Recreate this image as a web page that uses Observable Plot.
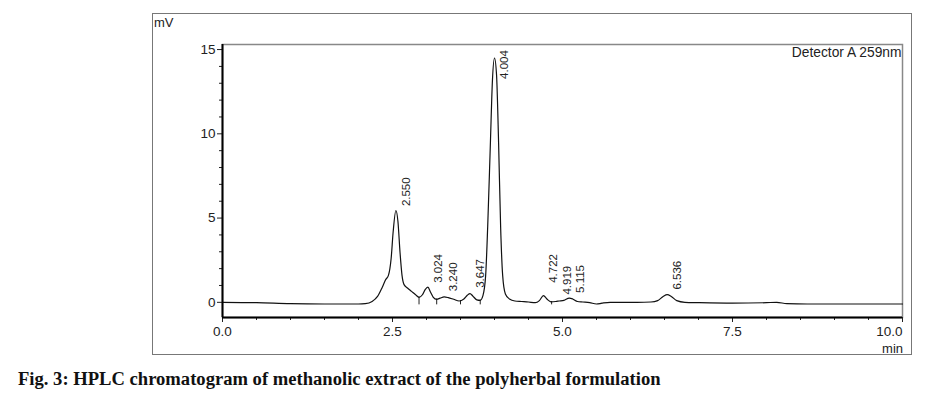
<!DOCTYPE html>
<html><head><meta charset="utf-8">
<script src="https://cdn.jsdelivr.net/npm/d3@7"></script>
<script src="https://cdn.jsdelivr.net/npm/@observablehq/plot@0.6"></script>
<style>
body{margin:0;background:#fff;}
#wrap{position:relative;width:926px;height:397px;overflow:hidden;font-family:"Liberation Sans",Arial,sans-serif;}
#box{position:absolute;left:152px;top:13px;width:760px;height:342px;border:1px solid #777;box-sizing:border-box;}
#chart{position:absolute;left:0;top:0;}
.lab{position:absolute;font-size:13px;color:#222;line-height:1;}
#caption{position:absolute;left:18px;top:370px;font-family:"Liberation Serif","Times New Roman",serif;font-weight:bold;font-size:18.6px;color:#111;white-space:nowrap;line-height:1;}
</style></head><body>
<div id="wrap">
<div id="box"></div>
<div id="chart"></div>
<div class="lab" style="left:154px;top:16px">mV</div>
<div class="lab" style="right:23px;top:342px">min</div>
<div id="caption">Fig. 3: HPLC chromatogram of methanolic extract of the polyherbal formulation</div>
</div>
<script>
// retention time (min) and detector response (mV)
const times = [0.00,0.5,1.0,1.5,2.0,2.1,2.2,2.28,2.35,2.40,2.44,2.48,2.51,2.55,2.58,2.61,2.64,2.67,2.72,2.78,2.84,2.89,2.94,2.98,3.02,3.06,3.10,3.15,3.20,3.26,3.32,3.40,3.48,3.55,3.60,3.64,3.68,3.74,3.79,3.83,3.87,3.90,3.94,3.97,4.00,4.03,4.06,4.09,4.12,4.16,4.22,4.30,4.40,4.50,4.60,4.66,4.72,4.77,4.83,4.90,4.95,5.02,5.10,5.15,5.22,5.30,5.40,5.50,5.58,5.70,5.90,6.10,6.30,6.40,6.48,6.54,6.60,6.68,6.80,7.00,7.50,8.00,8.15,8.30,8.60,9.00,10.0];
const signal = [0.00,-0.02,-0.08,-0.1,-0.1,-0.08,0.05,0.35,0.9,1.35,1.6,2.6,4.2,5.45,4.8,3.0,1.6,1.05,0.85,0.65,0.45,0.3,0.45,0.75,0.9,0.6,0.3,0.18,0.25,0.32,0.28,0.18,0.08,0.2,0.42,0.52,0.38,0.15,0.12,0.4,1.6,4.5,9.5,13.2,14.5,13.5,9.5,4.5,1.6,0.5,0.2,0.08,0.05,0.02,-0.02,0.1,0.4,0.2,0.03,0.05,0.08,0.12,0.25,0.2,0.05,0.02,-0.02,-0.1,-0.05,0.0,0.0,0.0,0.02,0.1,0.35,0.46,0.35,0.1,0.0,-0.02,-0.05,-0.02,0.0,-0.08,-0.1,-0.1,-0.1];

// peak labels
const peakTimes = [2.550,3.024,3.240,3.647,4.004,4.722,4.919,5.115,6.536];
const peakNames = ["2.550","3.024","3.240","3.647","4.004","4.722","4.919","5.115","6.536"];
const peakLabelY = [5.65,1.1,0.6,0.8,13.2,1.1,0.4,0.5,0.7];

// integration drop marks
const dropTimes = [2.89,3.15,3.50,3.79,4.84];
const dropTop = [0.32,0.2,0.1,0.14,0.05];
const dropBottom = -0.15;

const xTicks = [0,2.5,5,7.5];
const xLast = [10];
const xMinor = [0.5,1,1.5,2,3,3.5,4,4.5,5.5,6,6.5,7,8,8.5,9,9.5];
const yTicks = [0,5,10,15];
const yMinor = [1,2,3,4,6,7,8,9,11,12,13,14];

const trace = times.map((t,i)=>({t, v: signal[i]}));
const peaks = peakTimes.map((t,i)=>({t, y: peakLabelY[i], name: peakNames[i]}));
const drops = dropTimes.map((t,i)=>({t, y1: dropTop[i], y2: dropBottom}));

const chart = Plot.plot({
  width: 926, height: 360,
  marginLeft: 222, marginRight: 24, marginTop: 44, marginBottom: 43,
  style: {fontFamily: '"Liberation Sans", Arial, sans-serif', fontSize: "13px", color: "#222", background: "transparent"},
  x: {domain: [0, 10]},
  y: {domain: [-0.9, 15.3]},
  marks: [
    Plot.frame({stroke: "#888", strokeWidth: 1.5}),
    Plot.ruleX(drops, {x: "t", y1: "y1", y2: "y2", stroke: "#222", strokeWidth: 1}),
    Plot.line(trace, {x: "t", y: "v", stroke: "#111", strokeWidth: 1.2, curve: "monotone-x"}),
    Plot.text(peaks, {x: "t", y: "y", text: "name", rotate: -90, textAnchor: "start", dx: 10, dy: -1, fontSize: 11.5, fill: "#222"}),
    Plot.text(["Detector A 259nm"], {frameAnchor: "top-right", dx: -1, dy: 3, fontSize: 13.8, fill: "#222"}),
    Plot.axisX({ticks: xTicks, tickSize: 5, tickPadding: 4, tickFormat: d3.format(".1f"), label: null, fontSize: 13.5}),
    Plot.axisX({ticks: xLast, tickSize: 5, tickPadding: 4, tickFormat: d3.format(".1f"), label: null, fontSize: 13.5, textAnchor: "end", dx: 0}),
    Plot.axisX({ticks: xMinor, tickSize: 3, tickFormat: () => "", label: null}),
    Plot.axisY({ticks: yTicks, tickSize: 5, tickPadding: 2, label: null, fontSize: 13.5}),
    Plot.axisY({ticks: yMinor, tickSize: 3, tickFormat: () => "", label: null}),
    Plot.ruleX([0], {stroke: "#000", strokeWidth: 2}),
    Plot.ruleY([-0.9], {stroke: "#000", strokeWidth: 2})
  ]
});
document.getElementById("chart").appendChild(chart);
</script>
</body></html>
